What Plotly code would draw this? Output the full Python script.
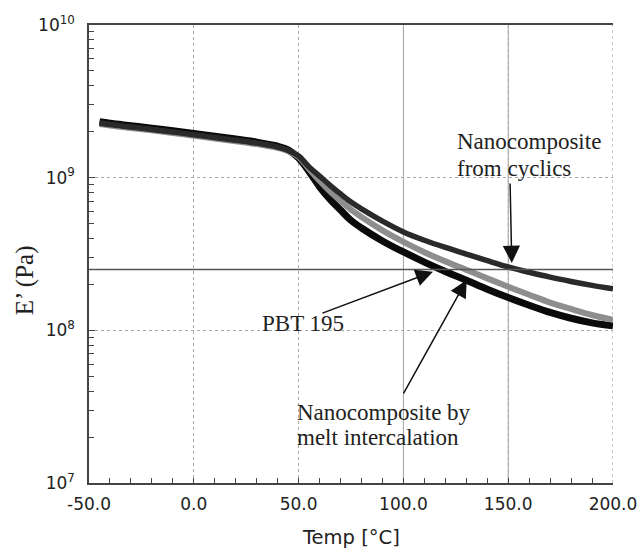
import plotly.graph_objects as go

# ---------------- data ----------------
temp = [-45, -40, -30, -20, -10, 0, 10, 20, 30, 40, 45, 50, 55, 60, 65, 70, 75,
        80, 90, 100, 110, 120, 130, 140, 150, 160, 170, 180, 190, 200]

e_cyclics = [2.280e9, 2.228e9, 2.148e9, 2.070e9, 1.991e9, 1.910e9, 1.832e9,
             1.758e9, 1.683e9, 1.585e9, 1.507e9, 1.387e9, 1.175e9, 1.023e9,
             8.91e8, 7.82e8, 6.92e8, 6.24e8, 5.19e8, 4.41e8, 3.89e8, 3.49e8,
             3.16e8, 2.86e8, 2.60e8, 2.40e8, 2.23e8, 2.09e8, 1.97e8, 1.87e8]

e_melt = [2.249e9, 2.198e9, 2.118e9, 2.042e9, 1.963e9, 1.884e9, 1.807e9,
          1.734e9, 1.660e9, 1.567e9, 1.493e9, 1.365e9, 1.140e9, 9.55e8,
          8.13e8, 7.05e8, 6.17e8, 5.52e8, 4.52e8, 3.80e8, 3.25e8, 2.83e8,
          2.49e8, 2.19e8, 1.93e8, 1.71e8, 1.52e8, 1.38e8, 1.26e8, 1.17e8]

e_pbt = [2.323e9, 2.270e9, 2.188e9, 2.109e9, 2.028e9, 1.945e9, 1.866e9,
         1.791e9, 1.710e9, 1.607e9, 1.521e9, 1.343e9, 1.096e9, 8.71e8,
         7.21e8, 6.14e8, 5.25e8, 4.68e8, 3.85e8, 3.26e8, 2.80e8, 2.43e8,
         2.13e8, 1.86e8, 1.64e8, 1.46e8, 1.31e8, 1.20e8, 1.12e8, 1.07e8]

ref_level = 2.5e8          # horizontal reference line

x_tick_vals = [-50, 0, 50, 100, 150, 200]
x_tick_labels = ["-50.0", "0.0", "50.0", "100.0", "150.0", "200.0"]
y_tick_vals = [1e7, 1e8, 1e9, 1e10]
y_tick_labels = ["10<sup>7</sup>", "10<sup>8</sup>", "10<sup>9</sup>", "10<sup>10</sup>"]
solid_grid_temps = [100, 150]
edge_grid_temps = [200]

# ---------------- figure ----------------
fig = go.Figure()

fig.add_trace(go.Scatter(x=temp, y=e_pbt, mode="lines", name="PBT 195",
                         line=dict(color="#0a0a0a", width=7, shape="spline")))
fig.add_trace(go.Scatter(x=temp, y=e_melt, mode="lines",
                         name="Nanocomposite by melt intercalation",
                         line=dict(color="#8e8e8e", width=6, shape="spline")))
fig.add_trace(go.Scatter(x=temp, y=e_cyclics, mode="lines",
                         name="Nanocomposite from cyclics",
                         line=dict(color="#2a2a2a", width=5.5, shape="spline")))

for t in solid_grid_temps:
    fig.add_vline(x=t, line=dict(color="#a0a0a0", width=1), layer="below")
for t in edge_grid_temps:
    fig.add_vline(x=t, line=dict(color="#999999", width=1, dash="dot"), layer="below")

fig.add_hline(y=ref_level, line=dict(color="#555555", width=1.5))

minor_y = [m * 10 ** d for d in range(7, 10) for m in range(2, 10)]

fig.update_xaxes(
    range=[-50, 200], tickvals=x_tick_vals, ticktext=x_tick_labels,
    showline=True, linecolor="#444444", linewidth=1.5, mirror=True,
    showgrid=True, gridcolor="#aaaaaa", griddash="dot", gridwidth=1,
    ticks="inside", ticklen=5, tickcolor="#444444", zeroline=False,
    minor=dict(dtick=10, ticks="inside", ticklen=5, tickcolor="#444444", showgrid=False),
    tickfont=dict(family="DejaVu Sans", size=17, color="#222222"),
    ticklabelstandoff=5, automargin=False,
)
fig.update_yaxes(
    type="log", range=[7, 10], tickvals=y_tick_vals, ticktext=y_tick_labels,
    showline=True, linecolor="#444444", linewidth=1.5,
    showgrid=True, gridcolor="#aaaaaa", griddash="dot", gridwidth=1,
    ticks="inside", ticklen=6, tickcolor="#444444", zeroline=False,
    minor=dict(tickvals=minor_y, ticks="inside", ticklen=5, tickcolor="#444444", showgrid=False),
    tickfont=dict(family="DejaVu Sans", size=17, color="#222222"),
    ticklabelstandoff=9, automargin=False,
)

serif = dict(family="Liberation Serif", size=23, color="#222222")
arrow_common = dict(showarrow=True, arrowhead=2, arrowsize=2.3, arrowwidth=1.5,
                    arrowcolor="#111111", text="", xref="x", yref="y", standoff=0)

annotations = [
    # labels
    dict(text="Nanocomposite", x=124.6, y=9.236, xref="x", yref="y",
         xanchor="left", yanchor="middle", showarrow=False, font=serif),
    dict(text="from cyclics", x=124.6, y=9.063, xref="x", yref="y",
         xanchor="left", yanchor="middle", showarrow=False, font=serif),
    dict(text="PBT 195", x=31.6, y=8.045, xref="x", yref="y",
         xanchor="left", yanchor="middle", showarrow=False, font=serif),
    dict(text="Nanocomposite by", x=48.3, y=7.459, xref="x", yref="y",
         xanchor="left", yanchor="middle", showarrow=False, font=serif),
    dict(text="melt intercalation", x=48.3, y=7.295, xref="x", yref="y",
         xanchor="left", yanchor="middle", showarrow=False, font=serif),
    # arrows (tip in data coords, tail offset in px)
    dict(x=151.7, y=8.441, ax=-1.7, ay=-81, **arrow_common),
    dict(x=114.1, y=8.384, ax=-112, ay=42, **arrow_common),
    dict(x=130.2, y=8.330, ax=-64, ay=115, **arrow_common),
    # axis titles
    dict(text="E’ (Pa)", x=-0.122, y=0.443, xref="paper", yref="paper",
         xanchor="center", yanchor="middle", textangle=-90, showarrow=False,
         font=dict(family="Liberation Serif", size=25, color="#222222")),
    dict(text="Temp [°C]", x=0.5, y=-0.118, xref="paper", yref="paper",
         xanchor="center", yanchor="middle", showarrow=False,
         font=dict(family="DejaVu Sans", size=19.5, color="#222222")),
]

fig.update_layout(
    width=640, height=548,
    margin=dict(l=89, r=27, t=25, b=65),
    paper_bgcolor="white", plot_bgcolor="white",
    showlegend=False,
    annotations=annotations,
)

fig.write_html("out.html", config={"displayModeBar": False},
               post_script="document.body.style.margin='0';")
